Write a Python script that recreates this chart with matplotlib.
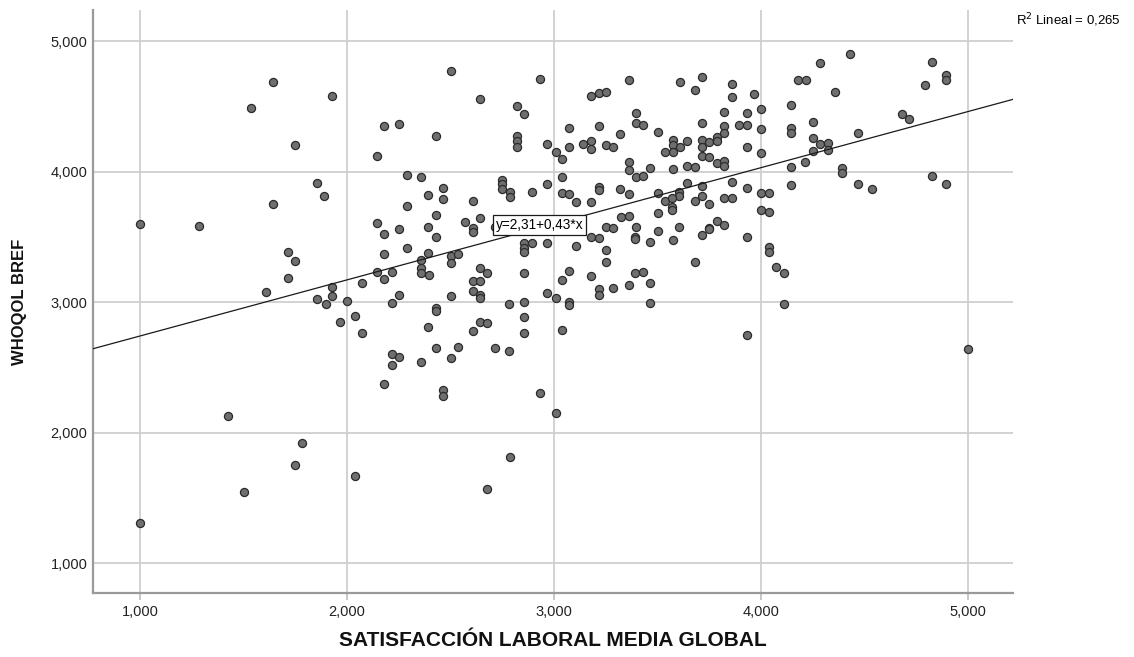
import matplotlib
matplotlib.use("Agg")
import matplotlib.pyplot as plt
from matplotlib.ticker import FuncFormatter

plt.rcParams["font.family"] = ["Liberation Sans", "DejaVu Sans"]

# Satisfacción laboral media global (x) y WHOQOL BREF (y), una fila por caso
satisfaccion = [
    1.644, 1.536, 1.750, 1.857, 1.890, 1.644, 1.000, 1.285, 1.715, 1.750,
    1.715, 1.607, 1.857, 1.897, 1.425, 1.784, 1.749, 1.501, 1.000,
    1.929, 2.501, 2.931, 2.644, 2.179, 2.253, 2.431, 2.822, 2.858, 2.822,
    2.822, 2.822, 2.966, 2.145, 2.288, 2.357, 2.465, 2.393, 2.465, 2.609,
    2.288, 2.750, 2.750, 2.750, 2.789, 2.789, 2.894, 2.966, 2.431, 2.143,
    2.253, 2.393, 2.573, 2.644, 2.609, 2.715,
    2.179, 2.431, 2.609, 2.858, 2.858, 2.858, 2.895, 2.966, 2.179, 2.288,
    2.393, 2.359, 2.501, 2.501, 2.536, 1.929, 1.929, 2.000, 2.072, 2.143,
    2.179, 2.216, 2.359, 2.359, 2.396, 2.253, 2.216, 2.501, 2.644, 2.679,
    2.609, 2.644, 2.609, 2.644, 2.644, 2.785, 2.858, 2.858, 2.858, 2.858,
    2.966, 3.008, 1.965, 2.037, 2.072, 2.431, 2.431, 2.393, 2.609, 2.644,
    2.679, 2.431, 2.536, 2.715, 2.785, 2.216, 2.253, 2.216, 2.359, 2.501,
    2.179, 2.465, 2.465, 2.931, 3.008,
    2.037, 2.789, 2.679,
    3.361, 3.180, 3.217, 3.253, 3.609, 3.716, 3.681, 3.860, 3.860, 3.966,
    3.396, 3.396, 3.430, 3.502, 3.072, 3.217, 3.322, 3.716, 3.824, 3.824,
    3.824, 3.894, 3.931, 3.931, 4.001, 4.001, 4.001, 3.931, 3.008, 3.040,
    3.072, 3.143, 3.180, 3.180, 3.253, 3.288, 3.575, 3.575, 3.575, 3.538,
    3.611, 3.645, 3.716, 3.716, 3.716, 3.752, 3.787, 3.787, 3.752, 3.787,
    3.824, 3.824, 3.040, 3.361, 3.361, 3.396, 3.430, 3.465, 3.575, 3.645,
    3.681, 3.645, 3.716, 3.716, 3.607, 3.607, 3.502, 3.538, 3.572, 3.572,
    3.681, 3.752, 3.860, 3.824, 3.860, 3.931, 4.001, 4.039, 4.001, 4.039,
    3.040, 3.072, 3.108, 3.180, 3.217, 3.217, 3.322, 3.361, 3.502, 3.325,
    3.361, 3.787, 3.824, 3.607, 3.752, 3.396, 3.253, 3.572,
    3.285, 3.180, 3.217, 3.394, 3.394, 3.465, 3.502, 3.575, 3.716, 3.752,
    3.931, 4.039, 4.039, 4.073, 4.110, 3.108, 3.253, 3.253, 3.681, 3.072,
    3.040, 3.180, 3.217, 3.217, 3.285, 3.361, 3.394, 3.430, 3.465, 3.465,
    3.072, 3.072, 3.040, 3.931, 4.110,
    5.000,
    4.432, 4.288, 4.180, 4.219, 4.359, 4.826, 4.896, 4.896, 4.791, 4.146,
    4.146, 4.146, 4.251, 4.251, 4.288, 4.324, 4.324, 4.251, 4.469, 4.681,
    4.718, 4.215, 4.146, 4.393, 4.393, 4.146, 4.469, 4.538, 4.826, 4.896,
]
whoqol = [
    4.688, 4.489, 4.203, 3.910, 3.815, 3.749, 3.600, 3.585, 3.386, 3.317,
    3.186, 3.077, 3.021, 2.985, 2.126, 1.922, 1.749, 1.544, 1.304,
    4.576, 4.768, 4.709, 4.558, 4.351, 4.364, 4.272, 4.500, 4.438, 4.272,
    4.234, 4.190, 4.213, 4.121, 3.973, 3.960, 3.876, 3.818, 3.789, 3.774,
    3.738, 3.935, 3.902, 3.866, 3.840, 3.802, 3.845, 3.907, 3.671, 3.603,
    3.559, 3.577, 3.616, 3.641, 3.570, 3.577,
    3.521, 3.501, 3.539, 3.450, 3.411, 3.386, 3.455, 3.455, 3.371, 3.411,
    3.378, 3.322, 3.353, 3.297, 3.368, 3.113, 3.046, 3.010, 3.143, 3.227,
    3.174, 3.227, 3.258, 3.220, 3.207, 3.056, 2.992, 3.044, 3.258, 3.220,
    3.161, 3.161, 3.084, 3.054, 3.033, 2.985, 3.220, 2.997, 2.887, 2.760,
    3.067, 3.028, 2.847, 2.893, 2.760, 2.952, 2.931, 2.811, 2.778, 2.847,
    2.837, 2.645, 2.658, 2.645, 2.627, 2.599, 2.579, 2.515, 2.538, 2.569,
    2.374, 2.326, 2.282, 2.305, 2.147,
    1.667, 1.815, 1.567,
    4.706, 4.579, 4.604, 4.612, 4.688, 4.722, 4.625, 4.670, 4.573, 4.594,
    4.446, 4.374, 4.359, 4.305, 4.336, 4.351, 4.287, 4.374, 4.458, 4.349,
    4.298, 4.356, 4.356, 4.446, 4.477, 4.326, 4.144, 4.188, 4.152, 4.096,
    4.186, 4.209, 4.234, 4.172, 4.203, 4.190, 4.241, 4.203, 4.152, 4.152,
    4.190, 4.234, 4.241, 4.186, 4.119, 4.229, 4.267, 4.234, 4.114, 4.063,
    4.083, 4.042, 3.960, 4.075, 4.011, 3.960, 3.968, 4.029, 4.017, 4.042,
    4.032, 3.910, 3.889, 3.815, 3.845, 3.815, 3.833, 3.776, 3.731, 3.705,
    3.776, 3.749, 3.923, 3.795, 3.795, 3.871, 3.833, 3.838, 3.705, 3.687,
    3.833, 3.828, 3.764, 3.769, 3.884, 3.858, 3.863, 3.828, 3.684, 3.654,
    3.659, 3.623, 3.590, 3.577, 3.570, 3.577, 3.577, 3.800,
    3.565, 3.501, 3.488, 3.501, 3.481, 3.463, 3.544, 3.475, 3.513, 3.557,
    3.501, 3.424, 3.386, 3.271, 3.222, 3.431, 3.398, 3.309, 3.309, 3.240,
    3.169, 3.199, 3.100, 3.054, 3.110, 3.130, 3.225, 3.232, 3.143, 2.990,
    3.002, 2.977, 2.785, 2.745, 2.985,
    2.638,
    4.898, 4.830, 4.701, 4.701, 4.612, 4.841, 4.739, 4.701, 4.663, 4.510,
    4.336, 4.299, 4.383, 4.259, 4.208, 4.216, 4.165, 4.159, 4.293, 4.441,
    4.400, 4.075, 4.032, 4.029, 3.991, 3.897, 3.902, 3.868, 3.966, 3.904,
]

# recta de ajuste lineal y su R cuadrado
intercepto = 2.31
pendiente = 0.43
r2 = 0.265

x_lim = (0.773, 5.217)
y_lim = (0.77, 5.24)


def coma(v, dec):
    return f"{v:,.{dec}f}".replace(".", ",")


fig = plt.figure(figsize=(11.34, 6.57), dpi=100)
ax = fig.add_axes([0.082, 0.0974, 0.811, 0.8876])

ax.grid(True, color="#cfcfcf", lw=1.3, zorder=0)
ax.set_axisbelow(True)

ax.scatter(satisfaccion, whoqol, s=34, facecolor="#6f6f6f",
           edgecolor="#2b2b2b", linewidth=0.9, zorder=3)

lx = list(x_lim)
ly = [intercepto + pendiente * v for v in lx]
ax.plot(lx, ly, color="#1a1a1a", lw=0.9, zorder=4)

# etiqueta de la ecuación sobre la recta
x_eq = 2.93
ax.text(x_eq, intercepto + pendiente * x_eq + 0.02,
        f"y={coma(intercepto, 2)}+{coma(pendiente, 2)}*x",
        fontsize=9.8, ha="center", va="center", zorder=5,
        bbox=dict(boxstyle="square,pad=0.22", fc="white", ec="#1a1a1a", lw=0.9))

fig.text(0.896, 0.970, "R$^2$ Lineal = " + coma(r2, 3),
         fontsize=9.5, ha="left", va="center")

ax.set_xlim(*x_lim)
ax.set_ylim(*y_lim)
ax.set_xticks([1, 2, 3, 4, 5])
ax.set_yticks([1, 2, 3, 4, 5])
fmt = FuncFormatter(lambda v, p: coma(v, 3))
ax.xaxis.set_major_formatter(fmt)
ax.yaxis.set_major_formatter(fmt)
ax.tick_params(labelsize=10.5, colors="#bdbdbd", labelcolor="#222222",
               length=5, width=1.2)
ax.tick_params(axis="y", length=0, pad=4)

for side in ("top", "right"):
    ax.spines[side].set_visible(False)
for side in ("left", "bottom"):
    ax.spines[side].set_color("#9a9a9a")
    ax.spines[side].set_linewidth(1.6)

ax.set_xlabel("SATISFACCIÓN LABORAL MEDIA GLOBAL", fontsize=15,
              fontweight="bold", color="#111111", labelpad=9)
ax.set_ylabel("WHOQOL BREF", fontsize=12, fontweight="bold",
              color="#111111", labelpad=17)

fig.savefig("out.png", dpi=100)
